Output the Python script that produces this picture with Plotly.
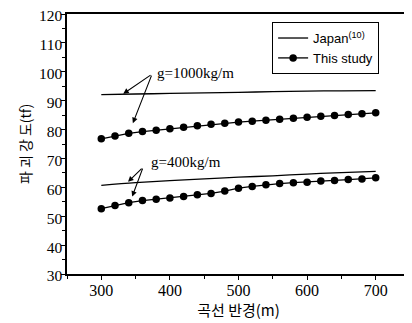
import plotly.graph_objects as go

radius = [300, 320, 340, 360, 380, 400, 420, 440, 460, 480, 500,
          520, 540, 560, 580, 600, 620, 640, 660, 680, 700]
study_1000 = [76.8, 77.8, 78.7, 79.3, 79.8, 80.3, 80.8, 81.3, 81.8, 82.2, 82.6,
              82.9, 83.2, 83.6, 83.9, 84.3, 84.6, 84.9, 85.2, 85.5, 85.8]
study_400 = [52.6, 53.7, 54.7, 55.4, 55.9, 56.3, 56.8, 57.4, 57.9, 58.7, 59.7,
             60.3, 60.9, 61.3, 61.6, 61.8, 62.2, 62.4, 62.7, 62.9, 63.3]
japan_x = [300, 350, 400, 450, 500, 550, 600, 650, 700]
japan_1000 = [92.1, 92.3, 92.5, 92.7, 92.9, 93.1, 93.3, 93.4, 93.5]
japan_400 = [60.7, 61.6, 62.3, 62.9, 63.5, 64.0, 64.6, 65.1, 65.5]

x_ticks = [300, 400, 500, 600, 700]
y_ticks = [30, 40, 50, 60, 70, 80, 90, 100, 110, 120]

fig = go.Figure()
fig.add_trace(go.Scatter(x=japan_x, y=japan_1000, mode="lines", name="Japan<sup>(10)</sup>",
                         line=dict(color="black", width=1.3, shape="spline")))
fig.add_trace(go.Scatter(x=radius, y=study_1000, mode="lines+markers", name="This study",
                         line=dict(color="black", width=1.3),
                         marker=dict(symbol="circle", size=7.5, color="black")))
fig.add_trace(go.Scatter(x=japan_x, y=japan_400, mode="lines", showlegend=False,
                         line=dict(color="black", width=1.3, shape="spline")))
fig.add_trace(go.Scatter(x=radius, y=study_400, mode="lines+markers", showlegend=False,
                         line=dict(color="black", width=1.3),
                         marker=dict(symbol="circle", size=7.5, color="black")))

serif = "Liberation Serif"
ann = []
def arrow(tx, ty, hx, hy):
    return dict(x=hx, y=hy, ax=tx, ay=ty, xref="x", yref="y", axref="x", ayref="y",
                text="", showarrow=True, arrowhead=2, arrowsize=1, arrowwidth=1.1,
                arrowcolor="black")
ann.append(arrow(374, 99.2, 332, 92.4))
ann.append(arrow(374, 99.2, 346, 82.2))
ann.append(dict(x=378, y=99.6, xref="x", yref="y", text="g=1000kg/m", showarrow=False,
                xanchor="left", yanchor="middle", font=dict(family=serif, size=15, color="black")))
ann.append(arrow(361, 67.0, 339, 61.9))
ann.append(arrow(361, 67.0, 345, 56.8))
ann.append(dict(x=369, y=68.8, xref="x", yref="y", text="g=400kg/m", showarrow=False,
                xanchor="left", yanchor="middle", font=dict(family=serif, size=15, color="black")))

# page body has an 8px margin, so the figure is 8px smaller and margins shifted
fig.update_layout(
    width=404, height=315,
    margin=dict(l=59, r=2, t=6, b=49),
    paper_bgcolor="white", plot_bgcolor="white",
    annotations=ann,
    showlegend=True,
    legend=dict(x=0.598, y=0.969, xanchor="left", yanchor="top",
                bordercolor="black", borderwidth=1, bgcolor="white",
                font=dict(family="Liberation Sans", size=13, color="black"),
                tracegroupgap=0, itemwidth=30),
    xaxis=dict(range=[250, 750], tickvals=x_ticks, ticks="outside", ticklen=4,
               tickwidth=1.2, tickcolor="black", showgrid=False, zeroline=False,
               showline=True, linecolor="black", linewidth=1.5, mirror=True,
               automargin=False, ticklabeloverflow="allow", ticklabelstandoff=-3,
               minor=dict(dtick=50, ticks="outside", ticklen=3, tickcolor="black"),
               tickfont=dict(family=serif, size=16, color="black"),
               title=dict(text="곡선 반경(m)", standoff=2,
                          font=dict(family="Noto Sans CJK KR", size=15, color="black"))),
    yaxis=dict(range=[30, 120], tickvals=y_ticks, ticks="outside", ticklen=4,
               tickwidth=1.2, tickcolor="black", showgrid=False, zeroline=False,
               showline=True, linecolor="black", linewidth=1.5, mirror=False,
               automargin=False, ticklabeloverflow="allow", ticklabelstandoff=-4,
               ticklabelshift=2,
               minor=dict(dtick=5, ticks="outside", ticklen=3, tickcolor="black"),
               tickfont=dict(family=serif, size=15.5, color="black"),
               title=dict(text="파 괴 강 도(tf)", standoff=4,
                          font=dict(family="Noto Sans CJK KR", size=14, color="black"))),
    shapes=[dict(type="line", xref="paper", yref="paper", x0=1, x1=1, y0=0, y1=1,
                 line=dict(color="#999999", width=1, dash="dot"))],
)

fig.write_html("out.html")
